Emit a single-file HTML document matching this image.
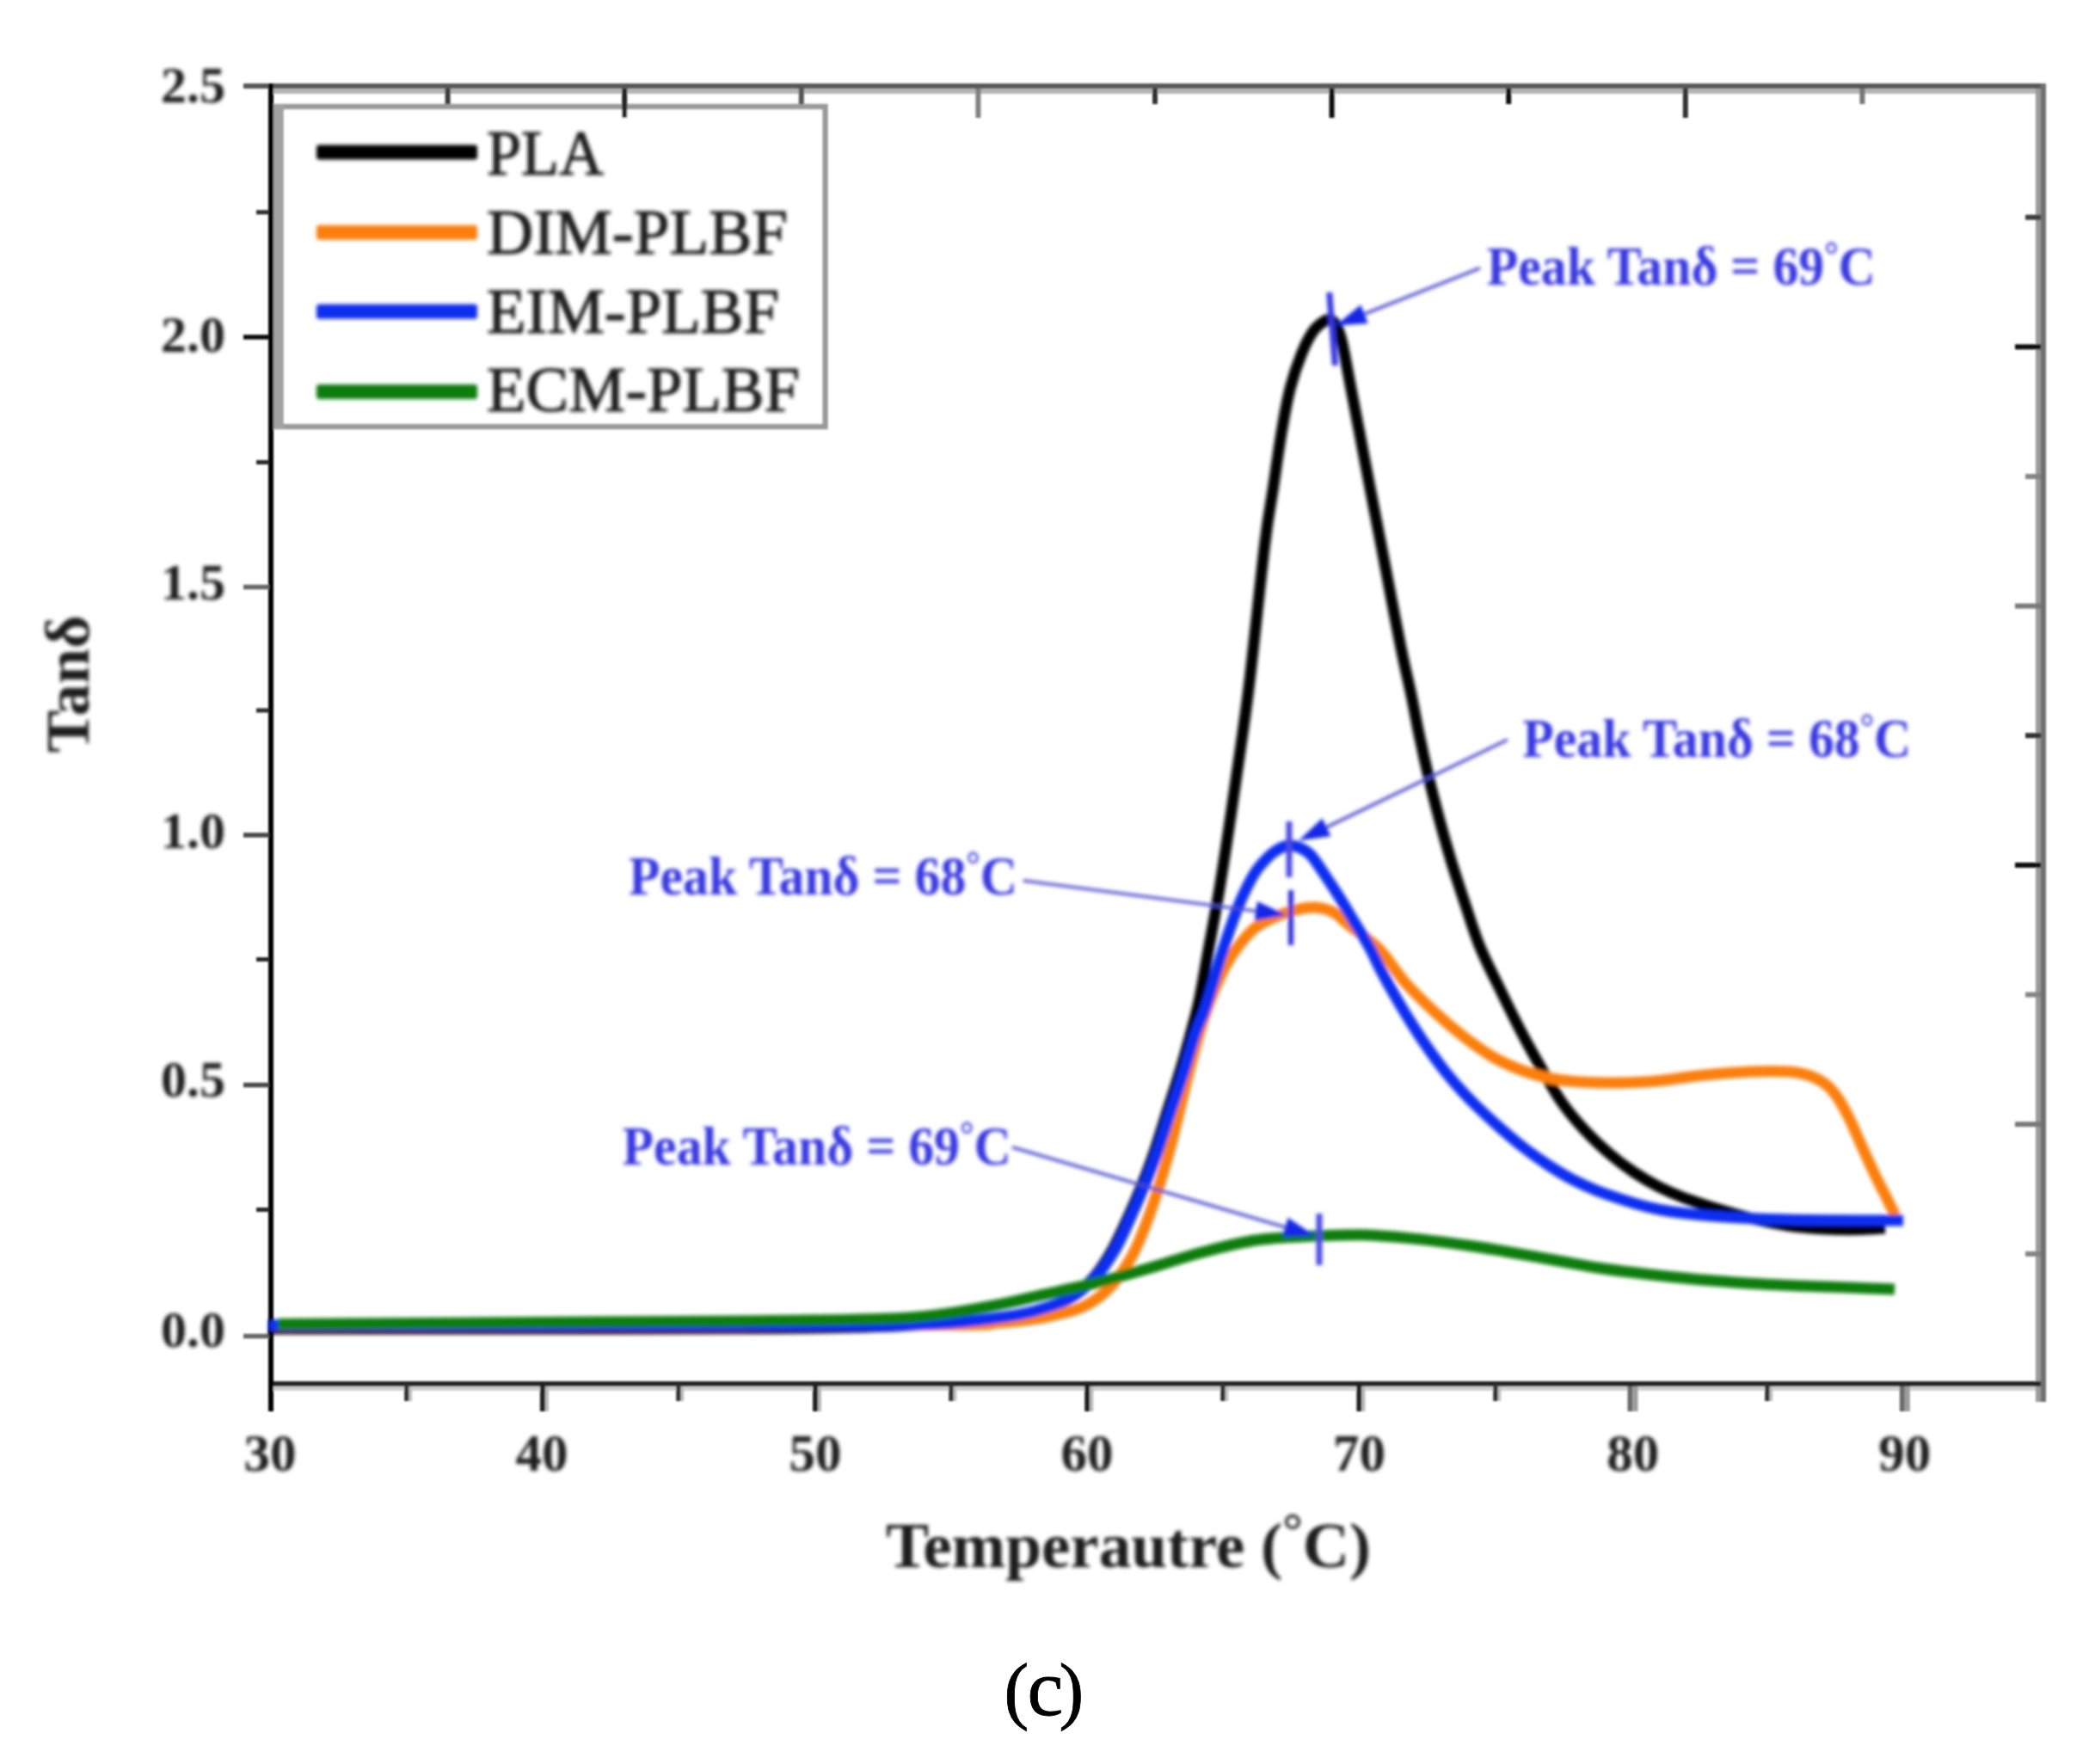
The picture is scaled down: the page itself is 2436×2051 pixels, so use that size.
<!DOCTYPE html>
<html lang="en"><head><meta charset="utf-8"><title>Tan delta vs temperature (c)</title>
<style>
html,body{margin:0;padding:0;background:#fff;}
body{width:2436px;height:2051px;overflow:hidden;}
svg{display:block;}
text{font-family:"Liberation Serif","DejaVu Serif",serif;}
.b{font-weight:bold;}
</style></head><body>
<svg width="2436" height="2051" viewBox="0 0 2436 2051">
<defs><filter id="soft" x="-2%" y="-2%" width="104%" height="104%"><feGaussianBlur stdDeviation="1.9"/></filter><filter id="soft2" x="-2%" y="-2%" width="104%" height="104%"><feGaussianBlur stdDeviation="0.8"/></filter></defs>
<rect width="2436" height="2051" fill="#ffffff"/>
<g filter="url(#soft2)">
<rect x="321.5" y="124" width="638" height="372" fill="#ffffff" stroke="#9a9a9a" stroke-width="6.5"/>
<rect x="318" y="121" width="12" height="378" fill="#a2a2a2"/>
<rect x="283" y="97" width="2096" height="6" fill="#585858"/>
<rect x="318" y="103" width="2049" height="6" fill="#b5b5b5"/>
<rect x="312" y="1606" width="2061" height="6" fill="#262626"/>
<rect x="318" y="1612" width="2049" height="5" fill="#cfcfcf"/>
<rect x="2367" y="103" width="6" height="1503" fill="#9a9a9a"/>
<rect x="2367" y="1612" width="6" height="18" fill="#9a9a9a"/>
<rect x="2373" y="97" width="6" height="1533" fill="#707070"/>
<rect x="312" y="97" width="6" height="1544" fill="#000000"/>
<rect x="283" y="389.2" width="30" height="5.5" fill="#111111"/>
<rect x="283" y="679.8" width="30" height="5.5" fill="#666666"/>
<rect x="283" y="968.2" width="30" height="5.5" fill="#4a4a4a"/>
<rect x="283" y="1258.8" width="30" height="5.5" fill="#4a4a4a"/>
<rect x="283" y="1550.8" width="30" height="5.5" fill="#686868"/>
<rect x="298" y="244.3" width="15" height="5" fill="#2a2a2a"/>
<rect x="298" y="535.0" width="15" height="5" fill="#2a2a2a"/>
<rect x="298" y="823.5" width="15" height="5" fill="#2a2a2a"/>
<rect x="298" y="1113.0" width="15" height="5" fill="#2a2a2a"/>
<rect x="298" y="1404.0" width="15" height="5" fill="#2a2a2a"/>
<rect x="627.9" y="1609" width="6" height="32" fill="#222222"/>
<rect x="633.9" y="1612" width="4" height="29" fill="#b8b8b8"/>
<rect x="945.0" y="1609" width="6" height="32" fill="#222222"/>
<rect x="951.0" y="1612" width="4" height="29" fill="#b8b8b8"/>
<rect x="1261.2" y="1609" width="6" height="32" fill="#222222"/>
<rect x="1267.2" y="1612" width="4" height="29" fill="#b8b8b8"/>
<rect x="1577.4" y="1609" width="6" height="32" fill="#222222"/>
<rect x="1583.4" y="1612" width="4" height="29" fill="#b8b8b8"/>
<rect x="1892.5" y="1612" width="6" height="29" fill="#6a6a6a"/>
<rect x="1898.5" y="1612" width="6" height="29" fill="#9c9c9c"/>
<rect x="2208.8" y="1612" width="6" height="29" fill="#6a6a6a"/>
<rect x="2214.8" y="1612" width="6" height="29" fill="#9c9c9c"/>
<rect x="470.1" y="1609" width="5.5" height="20" fill="#303030"/>
<rect x="475.6" y="1612" width="3.5" height="17" fill="#c0c0c0"/>
<rect x="786.2" y="1609" width="5.5" height="20" fill="#303030"/>
<rect x="791.8" y="1612" width="3.5" height="17" fill="#c0c0c0"/>
<rect x="1103.2" y="1609" width="5.5" height="20" fill="#303030"/>
<rect x="1108.8" y="1612" width="3.5" height="17" fill="#c0c0c0"/>
<rect x="1419.2" y="1609" width="5.5" height="20" fill="#303030"/>
<rect x="1424.8" y="1612" width="3.5" height="17" fill="#c0c0c0"/>
<rect x="1736.2" y="1609" width="5.5" height="20" fill="#303030"/>
<rect x="1741.8" y="1612" width="3.5" height="17" fill="#c0c0c0"/>
<rect x="2052.2" y="1609" width="5.5" height="20" fill="#303030"/>
<rect x="2057.8" y="1612" width="3.5" height="17" fill="#c0c0c0"/>
<rect x="517.6" y="103" width="6" height="18" fill="#3a3a3a"/>
<rect x="723.2" y="103" width="6" height="34" fill="#222222"/>
<rect x="928.8" y="103" width="6" height="18" fill="#555555"/>
<rect x="1134.4" y="103" width="6" height="34" fill="#808080"/>
<rect x="1340.0" y="103" width="6" height="18" fill="#333333"/>
<rect x="1545.6" y="103" width="6" height="34" fill="#111111"/>
<rect x="1751.2" y="103" width="6" height="18" fill="#111111"/>
<rect x="1956.8" y="103" width="6" height="34" fill="#333333"/>
<rect x="2162.4" y="103" width="6" height="18" fill="#777777"/>
<rect x="2355" y="249.7" width="18" height="6" fill="#3c3c3c"/>
<rect x="2343" y="400.3" width="30" height="6" fill="#0a0a0a"/>
<rect x="2355" y="551.0" width="18" height="6" fill="#858585"/>
<rect x="2343" y="701.6" width="30" height="6" fill="#7a7a7a"/>
<rect x="2355" y="852.2" width="18" height="6" fill="#303030"/>
<rect x="2343" y="1002.9" width="30" height="6" fill="#0a0a0a"/>
<rect x="2355" y="1153.5" width="18" height="6" fill="#858585"/>
<rect x="2343" y="1304.2" width="30" height="6" fill="#7a7a7a"/>
<rect x="2355" y="1454.9" width="18" height="6" fill="#858585"/>
</g>
<g filter="url(#soft)">
<path d="M312.0 1545.0 C360.0 1545.0 502.0 1545.1 600.0 1545.0 C698.0 1544.9 825.0 1545.1 900.0 1544.5 C975.0 1543.9 1008.3 1543.2 1050.0 1541.5 C1091.7 1539.8 1125.0 1536.6 1150.0 1534.0 C1175.0 1531.4 1184.5 1530.0 1200.0 1526.0 C1215.5 1522.0 1231.0 1516.8 1243.0 1510.0 C1255.0 1503.2 1263.7 1494.3 1272.0 1485.0 C1280.3 1475.7 1286.5 1465.3 1293.0 1454.0 C1299.5 1442.7 1305.3 1429.3 1311.0 1417.0 C1316.7 1404.7 1321.8 1392.8 1327.0 1380.0 C1332.2 1367.2 1337.0 1354.5 1342.0 1340.0 C1347.0 1325.5 1352.0 1308.7 1357.0 1293.0 C1362.0 1277.3 1367.3 1261.5 1372.0 1246.0 C1376.7 1230.5 1381.2 1214.3 1385.0 1200.0 C1388.8 1185.7 1391.7 1175.8 1395.0 1160.0 C1398.3 1144.2 1401.0 1126.8 1405.0 1105.0 C1409.0 1083.2 1413.5 1060.7 1418.7 1029.0 C1423.9 997.3 1430.5 952.8 1436.0 914.6 C1441.5 876.4 1446.2 846.8 1452.0 800.0 C1457.8 753.2 1465.8 672.8 1470.5 634.0 C1475.2 595.2 1477.2 589.3 1480.5 567.0 C1483.8 544.7 1487.2 519.5 1490.6 500.0 C1493.9 480.5 1496.7 465.0 1500.6 450.0 C1504.5 435.0 1509.6 420.8 1514.0 410.0 C1518.4 399.2 1522.8 391.0 1527.0 385.0 C1531.2 379.0 1535.5 376.2 1539.0 374.0 C1542.5 371.8 1545.3 370.8 1548.0 372.0 C1550.7 373.2 1552.8 376.3 1555.0 381.0 C1557.2 385.7 1558.4 388.5 1561.0 400.0 C1563.6 411.5 1567.4 433.3 1570.6 450.0 C1573.8 466.7 1576.5 480.5 1580.2 500.0 C1583.9 519.5 1588.7 544.7 1593.0 567.0 C1597.3 589.3 1601.7 611.7 1606.0 634.0 C1610.3 656.3 1614.7 680.0 1618.8 701.0 C1622.9 722.0 1626.7 742.2 1630.4 760.0 C1634.1 777.8 1637.6 791.9 1641.0 808.0 C1644.4 824.1 1647.2 840.3 1650.6 856.4 C1654.0 872.5 1657.6 888.5 1661.4 904.6 C1665.2 920.7 1669.4 936.7 1673.7 952.8 C1678.0 968.9 1682.5 984.9 1687.4 1001.0 C1692.3 1017.1 1697.5 1032.7 1703.0 1049.2 C1708.5 1065.7 1713.6 1083.0 1720.5 1100.0 C1727.4 1117.0 1736.3 1134.0 1744.6 1151.0 C1752.8 1168.0 1761.5 1185.8 1770.0 1202.0 C1778.5 1218.2 1787.8 1234.5 1795.6 1248.0 C1803.4 1261.5 1809.1 1271.9 1817.0 1283.0 C1824.9 1294.1 1833.9 1304.6 1843.0 1314.4 C1852.1 1324.2 1862.1 1333.5 1871.6 1341.6 C1881.1 1349.7 1890.4 1356.6 1900.0 1363.0 C1909.6 1369.4 1919.4 1375.1 1929.0 1380.0 C1938.6 1384.9 1947.3 1388.6 1957.5 1392.5 C1967.7 1396.4 1976.9 1399.5 1990.0 1403.5 C2003.1 1407.5 2021.2 1412.9 2036.0 1416.5 C2050.8 1420.1 2064.7 1422.9 2079.0 1425.0 C2093.3 1427.1 2107.7 1428.2 2122.0 1429.0 C2136.3 1429.8 2153.3 1429.7 2165.0 1429.5 C2176.7 1429.3 2187.5 1428.2 2192.0 1428.0" fill="none" stroke="#000000" stroke-width="13.0" stroke-linejoin="round" stroke-linecap="butt"/>
<path d="M318.0 1541.0 C381.7 1541.0 569.7 1541.1 700.0 1541.0 C830.3 1540.9 1023.3 1541.0 1100.0 1540.5 C1176.7 1540.0 1141.3 1539.4 1160.0 1538.0 C1178.7 1536.6 1195.6 1535.1 1212.0 1532.0 C1228.4 1528.9 1245.7 1525.3 1258.6 1519.6 C1271.5 1513.9 1280.3 1507.1 1289.6 1497.8 C1298.9 1488.5 1307.7 1475.1 1314.4 1463.7 C1321.1 1452.3 1324.8 1442.5 1330.0 1429.6 C1335.2 1416.6 1340.3 1402.0 1345.5 1386.0 C1350.7 1370.0 1356.8 1348.9 1361.0 1333.4 C1365.2 1317.9 1367.2 1308.6 1371.0 1293.0 C1374.8 1277.4 1379.0 1258.8 1384.0 1240.0 C1389.0 1221.2 1395.2 1197.5 1401.0 1180.0 C1406.8 1162.5 1414.0 1146.2 1419.0 1135.0 C1424.0 1123.8 1427.2 1119.2 1431.0 1113.0 C1434.8 1106.8 1437.0 1103.4 1441.6 1097.8 C1446.2 1092.2 1452.6 1084.2 1458.8 1079.2 C1465.0 1074.2 1471.7 1071.1 1478.9 1067.8 C1486.1 1064.5 1493.7 1061.3 1501.8 1059.2 C1509.9 1057.1 1519.5 1054.8 1527.6 1055.0 C1535.7 1055.2 1543.8 1057.3 1550.5 1060.6 C1557.2 1063.9 1558.9 1067.9 1567.7 1075.0 C1576.5 1082.1 1592.4 1092.2 1603.4 1103.4 C1614.5 1114.7 1623.2 1130.3 1634.0 1142.5 C1644.8 1154.7 1656.7 1166.0 1668.0 1176.5 C1679.3 1187.0 1690.7 1196.7 1702.0 1205.4 C1713.3 1214.2 1724.7 1222.5 1736.0 1229.0 C1747.3 1235.5 1758.7 1240.4 1770.0 1244.6 C1781.3 1248.8 1792.7 1251.8 1804.0 1254.0 C1815.3 1256.2 1825.3 1257.2 1838.0 1258.0 C1850.7 1258.8 1865.5 1259.2 1880.0 1259.0 C1894.5 1258.8 1908.5 1258.5 1925.0 1257.0 C1941.5 1255.5 1960.5 1252.0 1979.0 1250.2 C1997.5 1248.4 2019.3 1246.7 2036.0 1246.0 C2052.7 1245.3 2068.0 1245.3 2079.0 1246.0 C2090.0 1246.7 2094.8 1247.7 2102.0 1250.0 C2109.2 1252.3 2116.2 1255.7 2122.0 1260.0 C2127.8 1264.3 2131.8 1269.0 2136.6 1276.0 C2141.4 1283.0 2146.3 1292.3 2151.0 1301.8 C2155.7 1311.3 2160.2 1322.5 2165.0 1333.0 C2169.8 1343.5 2174.8 1354.7 2179.6 1364.8 C2184.4 1374.9 2189.9 1385.2 2194.0 1393.4 C2198.1 1401.6 2202.3 1410.6 2204.0 1414.0" fill="none" stroke="#fb7f0f" stroke-width="13.0" stroke-linejoin="round" stroke-linecap="butt"/>
<path d="M312.0 1540.5 C376.7 1540.5 582.8 1540.5 700.0 1540.5 C817.2 1540.5 948.3 1540.8 1015.0 1540.5 C1081.7 1540.2 1077.5 1539.7 1100.0 1538.5 C1122.5 1537.3 1134.0 1535.6 1150.0 1533.5 C1166.0 1531.4 1180.5 1529.9 1196.0 1526.0 C1211.5 1522.1 1230.0 1516.8 1243.0 1510.0 C1256.0 1503.2 1265.2 1494.3 1274.0 1485.0 C1282.8 1475.7 1289.3 1465.3 1296.0 1454.0 C1302.7 1442.7 1308.3 1429.3 1314.0 1417.0 C1319.7 1404.7 1324.8 1392.8 1330.0 1380.0 C1335.2 1367.2 1340.3 1354.5 1345.5 1340.0 C1350.7 1325.5 1355.8 1308.6 1361.0 1293.0 C1366.2 1277.4 1371.6 1262.0 1376.5 1246.5 C1381.4 1231.0 1386.3 1212.4 1390.5 1200.0 C1394.7 1187.6 1396.9 1186.2 1401.6 1172.0 C1406.3 1157.8 1413.5 1131.7 1418.7 1115.0 C1423.9 1098.3 1428.7 1084.0 1433.0 1072.0 C1437.3 1060.0 1440.2 1052.5 1444.5 1043.0 C1448.8 1033.5 1453.8 1023.0 1459.0 1015.0 C1464.2 1007.0 1471.2 999.8 1476.0 995.0 C1480.8 990.2 1484.2 988.5 1488.0 986.5 C1491.8 984.5 1495.2 983.2 1499.0 983.0 C1502.8 982.8 1506.8 983.7 1511.0 985.5 C1515.2 987.3 1519.0 988.6 1524.0 994.0 C1529.0 999.4 1535.5 1009.8 1541.0 1018.0 C1546.5 1026.2 1551.7 1034.1 1557.3 1043.0 C1562.9 1051.9 1568.8 1062.1 1574.5 1071.6 C1580.2 1081.1 1586.5 1090.7 1591.7 1100.2 C1597.0 1109.8 1601.0 1119.4 1606.0 1128.9 C1611.0 1138.5 1616.3 1148.0 1621.8 1157.5 C1627.3 1167.0 1633.0 1176.7 1639.0 1186.2 C1645.0 1195.8 1650.7 1204.8 1657.6 1214.8 C1664.5 1224.8 1672.8 1236.3 1680.5 1246.0 C1688.2 1255.7 1694.8 1263.3 1704.0 1273.0 C1713.2 1282.7 1725.0 1294.0 1736.0 1304.0 C1747.0 1314.0 1759.3 1324.6 1770.0 1333.0 C1780.7 1341.4 1790.2 1348.1 1800.0 1354.5 C1809.8 1360.9 1819.1 1366.6 1828.6 1371.6 C1838.1 1376.6 1847.4 1380.7 1857.0 1384.5 C1866.6 1388.3 1876.4 1391.5 1886.0 1394.6 C1895.6 1397.7 1905.1 1400.6 1914.6 1403.0 C1924.1 1405.4 1931.1 1407.0 1943.0 1408.8 C1954.9 1410.5 1969.3 1412.1 1986.0 1413.5 C2002.7 1414.9 2024.0 1416.2 2043.0 1417.0 C2062.0 1417.8 2080.5 1418.2 2100.0 1418.5 C2119.5 1418.8 2141.2 1418.9 2160.0 1419.0 C2178.8 1419.1 2204.2 1419.0 2213.0 1419.0" fill="none" stroke="#0a2ef0" stroke-width="13.0" stroke-linejoin="round" stroke-linecap="butt"/>
<path d="M323.0 1539.5 C385.8 1539.1 603.8 1537.7 700.0 1537.0 C796.2 1536.3 840.3 1536.3 900.0 1535.5 C959.7 1534.7 1016.3 1534.8 1058.0 1532.0 C1099.7 1529.2 1124.3 1523.4 1150.0 1519.0 C1175.7 1514.6 1191.3 1510.2 1212.0 1505.6 C1232.7 1501.0 1253.3 1496.8 1274.0 1491.6 C1294.7 1486.4 1315.3 1480.5 1336.0 1474.6 C1356.7 1468.7 1377.3 1461.4 1398.0 1456.0 C1418.7 1450.6 1439.3 1445.1 1460.0 1442.0 C1480.7 1438.9 1501.3 1438.3 1522.0 1437.3 C1542.7 1436.3 1563.3 1435.3 1584.0 1435.8 C1604.7 1436.3 1625.3 1438.3 1646.0 1440.4 C1666.7 1442.5 1690.7 1445.8 1708.0 1448.2 C1725.3 1450.6 1733.5 1452.2 1750.0 1455.0 C1766.5 1457.8 1787.9 1461.7 1807.0 1465.0 C1826.1 1468.3 1845.4 1472.1 1864.6 1475.0 C1883.8 1477.9 1902.9 1480.0 1922.0 1482.2 C1941.1 1484.4 1960.0 1486.3 1979.0 1488.0 C1998.0 1489.7 2016.8 1491.0 2036.0 1492.2 C2055.2 1493.4 2074.8 1494.2 2094.0 1495.0 C2113.2 1495.8 2132.8 1496.3 2151.0 1497.0 C2169.2 1497.7 2194.3 1498.7 2203.0 1499.0" fill="none" stroke="#0b7d0b" stroke-width="13.0" stroke-linejoin="round" stroke-linecap="butt"/>
<rect x="368" y="168.5" width="187" height="17" rx="3" fill="#000000"/>
<text x="566" y="202.8" font-size="75" fill="#1c1c1c" stroke="#1c1c1c" stroke-width="1.2" textLength="136" lengthAdjust="spacingAndGlyphs">PLA</text>
<rect x="368" y="261.7" width="187" height="17" rx="3" fill="#fb7f0f"/>
<text x="566" y="295.3" font-size="75" fill="#1c1c1c" stroke="#1c1c1c" stroke-width="1.2" textLength="350" lengthAdjust="spacingAndGlyphs">DIM-PLBF</text>
<rect x="368" y="353.8" width="187" height="17" rx="3" fill="#0a2ef0"/>
<text x="566" y="386.6" font-size="75" fill="#1c1c1c" stroke="#1c1c1c" stroke-width="1.2" textLength="340" lengthAdjust="spacingAndGlyphs">EIM-PLBF</text>
<rect x="368" y="447.1" width="187" height="17" rx="3" fill="#0b7d0b"/>
<text x="566" y="477.9" font-size="75" fill="#1c1c1c" stroke="#1c1c1c" stroke-width="1.2" textLength="364" lengthAdjust="spacingAndGlyphs">ECM-PLBF</text>
<line x1="1721.0" y1="311.7" x2="1586.5" y2="365.2" stroke="#4a4acc" stroke-width="3.4"/>
<polygon points="1553.0,378.5 1582.2,354.5 1590.7,375.9" fill="#1428e6"/>
<line x1="1753.0" y1="860.0" x2="1542.4" y2="961.9" stroke="#4a4acc" stroke-width="3.4"/>
<polygon points="1510.0,977.6 1537.4,951.6 1547.4,972.3" fill="#1428e6"/>
<line x1="1189.7" y1="1023.9" x2="1460.3" y2="1059.3" stroke="#4a4acc" stroke-width="3.4"/>
<polygon points="1496.0,1064.0 1458.8,1070.7 1461.8,1047.9" fill="#1428e6"/>
<line x1="1176.8" y1="1333.8" x2="1494.5" y2="1426.9" stroke="#4a4acc" stroke-width="3.4"/>
<polygon points="1529.0,1437.0 1491.2,1437.9 1497.7,1415.8" fill="#1428e6"/>
<line x1="1545.7" y1="340" x2="1552.4" y2="425" stroke="#3434e0" stroke-width="7"/>
<line x1="1499" y1="955" x2="1499" y2="1020" stroke="#4a4ae2" stroke-width="7"/>
<line x1="1501" y1="1035" x2="1501" y2="1099" stroke="#2a2ad8" stroke-width="6"/>
<line x1="1534" y1="1411" x2="1534" y2="1471" stroke="#4a4ae2" stroke-width="7"/>
<text class="b" x="1728.8" y="330.5" font-size="64" fill="#3838e0" textLength="452" lengthAdjust="spacingAndGlyphs">Peak Tanδ = 69<tspan font-size="44" dy="-20">°</tspan><tspan dy="20">C</tspan></text>
<text class="b" x="1770.3" y="880.0" font-size="64" fill="#3838e0" textLength="452" lengthAdjust="spacingAndGlyphs">Peak Tanδ = 68<tspan font-size="44" dy="-20">°</tspan><tspan dy="20">C</tspan></text>
<text class="b" x="731.0" y="1040.0" font-size="64" fill="#3838e0" textLength="452" lengthAdjust="spacingAndGlyphs">Peak Tanδ = 68<tspan font-size="44" dy="-20">°</tspan><tspan dy="20">C</tspan></text>
<text class="b" x="723.6" y="1353.5" font-size="64" fill="#3838e0" textLength="452" lengthAdjust="spacingAndGlyphs">Peak Tanδ = 69<tspan font-size="44" dy="-20">°</tspan><tspan dy="20">C</tspan></text>
<text class="b" x="262" y="118.5" font-size="60" text-anchor="end" fill="#1a1a1a">2.5</text>
<text class="b" x="262" y="408.5" font-size="60" text-anchor="end" fill="#1a1a1a">2.0</text>
<text class="b" x="262" y="696.5" font-size="60" text-anchor="end" fill="#1a1a1a">1.5</text>
<text class="b" x="262" y="985.5" font-size="60" text-anchor="end" fill="#1a1a1a">1.0</text>
<text class="b" x="262" y="1274.5" font-size="60" text-anchor="end" fill="#1a1a1a">0.5</text>
<text class="b" x="262" y="1565.5" font-size="60" text-anchor="end" fill="#1a1a1a">0.0</text>
<text class="b" x="314.0" y="1710" font-size="61" text-anchor="middle" fill="#1a1a1a">30</text>
<text class="b" x="630.0" y="1710" font-size="61" text-anchor="middle" fill="#1a1a1a">40</text>
<text class="b" x="948.0" y="1710" font-size="61" text-anchor="middle" fill="#1a1a1a">50</text>
<text class="b" x="1264.0" y="1710" font-size="61" text-anchor="middle" fill="#1a1a1a">60</text>
<text class="b" x="1580.4" y="1710" font-size="61" text-anchor="middle" fill="#1a1a1a">70</text>
<text class="b" x="1898.8" y="1710" font-size="61" text-anchor="middle" fill="#1a1a1a">80</text>
<text class="b" x="2214.8" y="1710" font-size="61" text-anchor="middle" fill="#1a1a1a">90</text>
<text class="b" x="1030" y="1822" font-size="74" fill="#1a1a1a" textLength="564" lengthAdjust="spacingAndGlyphs">Temperautre (<tspan font-size="58" dy="-23">°</tspan><tspan dy="23">C)</tspan></text>
<text class="b" transform="translate(103 875.3) rotate(-90)" font-size="72" fill="#1a1a1a" textLength="160" lengthAdjust="spacingAndGlyphs">Tanδ</text>
</g>
<text y="1994" fill="#000000" stroke="#000000" stroke-width="0.8"><tspan x="1167.5" font-size="86">(</tspan><tspan x="1194.5" font-size="94">c</tspan><tspan x="1231.5" font-size="86">)</tspan></text>
</svg></body></html>
